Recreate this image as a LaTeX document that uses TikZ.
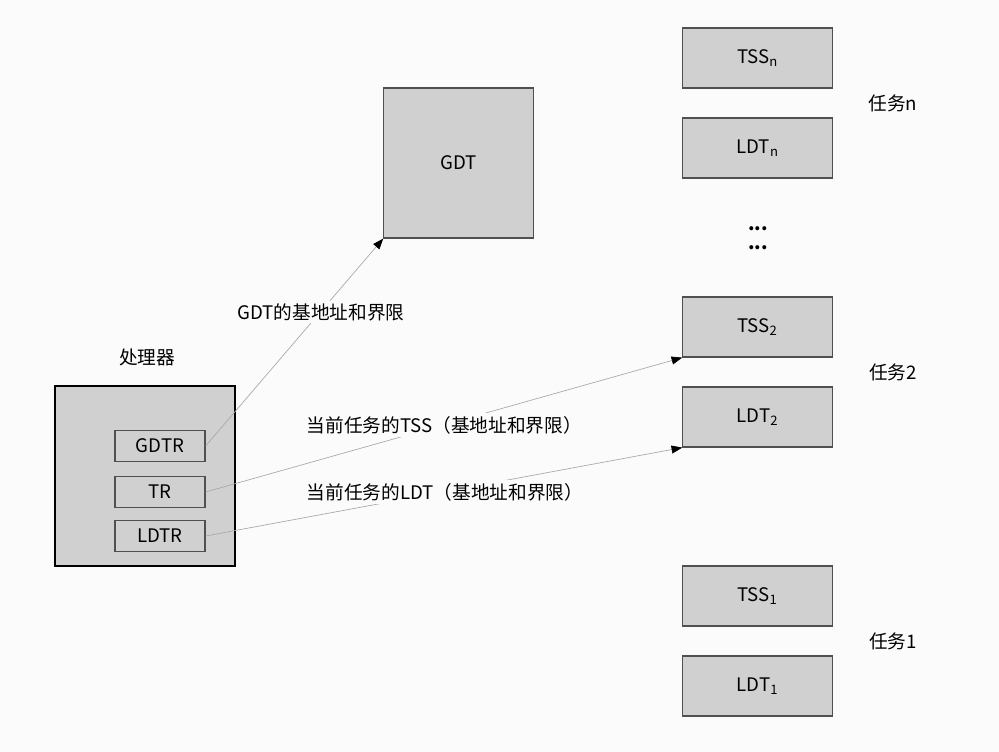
\documentclass[tikz,border=0pt]{standalone}
\usepackage{fontspec}
\setmainfont{Noto Sans CJK SC}
\usetikzlibrary{arrows.meta}
\definecolor{bgcol}{HTML}{FBFBFB}
\definecolor{boxfill}{HTML}{D0D0D0}
\definecolor{boxline}{HTML}{505050}
\definecolor{linkcol}{HTML}{A8A8A8}
\tikzset{
  % Processor and register styles
  cpubox/.style={rectangle, draw=black, line width=2.2pt, fill=boxfill, minimum width=135pt, minimum height=135pt},
  regbox/.style={rectangle, draw=boxline, line width=0.9pt, fill=boxfill, minimum width=67.5pt, minimum height=23pt, font=\fontsize{14pt}{16pt}\selectfont},
  % Descriptor table styles
  tblbox/.style={rectangle, draw=boxline, line width=0.9pt, fill=boxfill, minimum width=112pt, minimum height=45pt, font=\fontsize{14pt}{16pt}\selectfont},
  gdtbox/.style={tblbox, minimum height=112.5pt},
  % Links and labels
  link/.style={draw=linkcol, line width=0.5pt, -{Triangle[length=8pt, width=6pt, color=black]}},
  lbl/.style={fill=bgcol, inner sep=2pt, font=\fontsize{14pt}{16pt}\selectfont},
  plain/.style={inner sep=1pt, font=\fontsize{14pt}{16pt}\selectfont},
}
\begin{document}
\begin{tikzpicture}[x=0.75pt, y=-0.75pt]
    % Canvas 999 x 752 px
    \useasboundingbox (0,0) rectangle (999,752);
    \fill[bgcol] (0,0) rectangle (999,752);
    % Processor
    \node[cpubox] (cpu) at (145,476) {};
    \node[plain] (cpulbl) at (147,357) {处理器};
    \node[regbox] (gdtr) at (160,446) {GDTR};
    \node[regbox] (tr) at (160,492) {TR};
    \node[regbox] (ldtr) at (160,536) {LDTR};
    % GDT
    \node[gdtbox] (gdt) at (458.5,163) {GDT};
    % Task tables
    \foreach \y/\nm/\txt in {58/tssn/TSS\textsubscript{n}, 148/ldtn/LDT\textsubscript{n},
                              327/tss2/TSS\textsubscript{2}, 417/ldt2/LDT\textsubscript{2},
                              596/tss1/TSS\textsubscript{1}, 686/ldt1/LDT\textsubscript{1}} {
      \node[tblbox] (\nm) at (757.5,\y) {\txt};
    }
    \node[plain] (dotsa) at (758,229) {\textbf{...}};
    \node[plain] (dotsb) at (758,248) {\textbf{...}};
    % Task labels
    \node[plain] (taskn) at (893,103) {任务n};
    \node[plain] (task2) at (893,372) {任务2};
    \node[plain] (task1) at (893,641) {任务1};
    % Links
    \draw[link] (gdtr.east) -- (gdt.south west);
    \draw[link] (tr.east) -- (tss2.south west);
    \draw[link] (ldtr.east) -- (ldt2.south west);
    \node[lbl] (gdtlbl) at (321,312) {GDT的基地址和界限};
    \node[lbl, anchor=west] (tsslbl) at (304,425) {当前任务的TSS（基地址和界限）};
    \node[lbl, anchor=west] (ldtlbl) at (304,492) {当前任务的LDT（基地址和界限）};
\end{tikzpicture}
\end{document}
